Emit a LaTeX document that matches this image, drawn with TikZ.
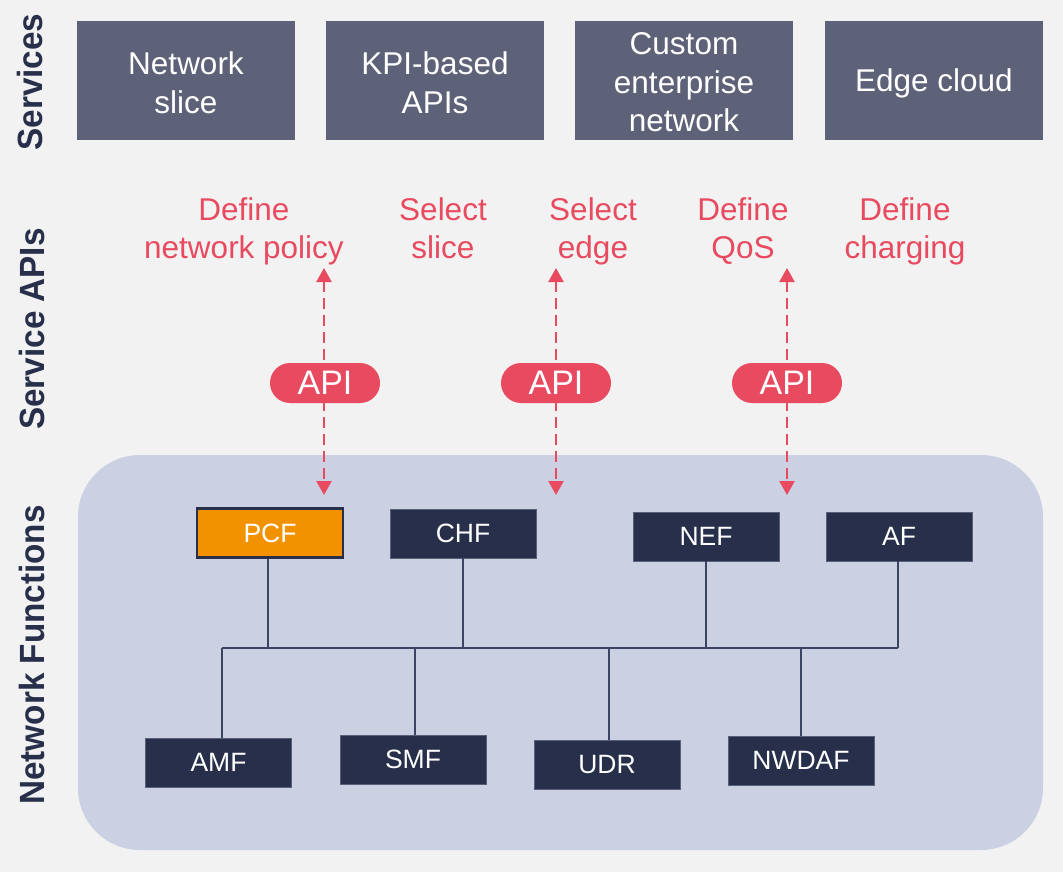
\documentclass[tikz,border=0pt]{standalone}
\usepackage{fontspec}
\setmainfont{Liberation Sans}
\newfontfamily\condfont[FakeStretch=0.95]{Liberation Sans}
\usetikzlibrary{arrows.meta}
\definecolor{bgcol}{HTML}{F2F2F2}
\definecolor{svcgray}{HTML}{5D6278}
\definecolor{apired}{HTML}{E84A5F}
\definecolor{navy}{HTML}{272F4B}
\definecolor{nfarea}{HTML}{CBD0E3}
\definecolor{pcforange}{HTML}{F39200}
\definecolor{wire}{HTML}{3C4463}
\tikzset{
  svcbox/.style={fill=svcgray},
  svc/.style={text=white, inner sep=0pt, align=center,
    font=\fontsize{31.5}{38.5}\selectfont},
  apilabel/.style={text=apired, align=center, font=\fontsize{31.5}{38}\selectfont},
  pill/.style={fill=apired, text=white, rounded corners=20pt, minimum width=110pt,
    minimum height=40pt, inner sep=0pt, font=\fontsize{34}{36}\selectfont},
  nfbox/.style={fill=navy, draw=navy!70!nfarea, line width=0.8pt, text=white,
    minimum width=146pt, minimum height=49pt, inner sep=0pt,
    font=\fontsize{26.5}{30}\selectfont},
  layer/.style={text=navy, rotate=90, font=\condfont\bfseries\fontsize{35}{38}\selectfont},
  apiarrow/.style={draw=apired, line width=2.5pt, dash pattern=on 11pt off 6pt,
    {Triangle[width=15pt,length=14pt]}-{Triangle[width=15pt,length=14pt]}},
  bus/.style={draw=wire, line width=1.2pt}
}
\begin{document}
\begin{tikzpicture}[x=1pt,y=-1pt]
  \fill[bgcol] (0,0) rectangle (1063,872);
  \useasboundingbox (0,0) rectangle (1063,872);

  % layer titles
  \node[layer] (tsvc) at (30,82) {Services};
  \node[layer] (tapi) at (32,329) {Service APIs};
  \node[layer] (tnf) at (32,655) {Network Functions};

  % services row
  \fill[svcbox] (77,21) rectangle (295,140);
  \fill[svcbox] (326,21) rectangle (544,140);
  \fill[svcbox] (575,21) rectangle (793,140);
  \fill[svcbox] (825,21) rectangle (1043,140);
  \node[svc] (s1) at (186,82.5) {Network\\slice};
  \node[svc] (s2) at (435,82.5) {KPI-based\\APIs};
  \node[svc] (s3) at (684,82.5) {Custom\\enterprise\\network};
  \node[svc] (s4) at (934,83.5) {Edge cloud};

  % service API labels
  \node[apilabel] (a1) at (244,231) {Define\\network policy};
  \node[apilabel] (a2) at (443,228) {Select\\slice};
  \node[apilabel] (a3) at (593,231) {Select\\edge};
  \node[apilabel] (a4) at (743,231) {Define\\QoS};
  \node[apilabel] (a5) at (905,231) {Define\\charging};

  % network function area
  \fill[nfarea, rounded corners=62pt] (78,455) rectangle (1043,850);

  % upper functions
  \node[nfbox, fill=pcforange, draw=navy, line width=2.5pt] (pcf) at (270,533) {PCF};
  \node[nfbox] (chf) at (463,533.5) {CHF};
  \node[nfbox] (nef) at (706,536.5) {NEF};
  \node[nfbox] (af)  at (899,536.5) {AF};

  % lower functions
  \node[nfbox] (amf)   at (218.5,762.5) {AMF};
  \node[nfbox] (smf)   at (413,759.5) {SMF};
  \node[nfbox] (udr)   at (607,764.5) {UDR};
  \node[nfbox] (nwdaf) at (801,760.5) {NWDAF};

  % shared bus
  \coordinate (busL) at (222,648);
  \coordinate (busR) at (898,648);
  \draw[bus] (busL) -- (busR);
  \draw[bus] (268,0 |- pcf.south) -- (268,648);
  \draw[bus] (chf.south) -- (chf.south |- busL);
  \draw[bus] (nef.south) -- (nef.south |- busL);
  \draw[bus] (898,0 |- af.south) -- (busR);
  \draw[bus] (busL) -- (222,0 |- amf.north);
  \draw[bus] (415,648) -- (415,0 |- smf.north);
  \draw[bus] (609,648) -- (609,0 |- udr.north);
  \draw[bus] (801,648) -- (nwdaf.north);

  % API links
  \coordinate (t1) at (324,268); \coordinate (b1) at (324,495);
  \coordinate (t2) at (556,268); \coordinate (b2) at (556,495);
  \coordinate (t3) at (787,268); \coordinate (b3) at (787,495);
  \draw[apiarrow] (t1) -- (b1);
  \draw[apiarrow] (t2) -- (b2);
  \draw[apiarrow] (t3) -- (b3);
  \node[pill] (p1) at (325,383) {API};
  \node[pill] (p2) at (556,383) {API};
  \node[pill] (p3) at (787,383) {API};
\end{tikzpicture}
\end{document}
